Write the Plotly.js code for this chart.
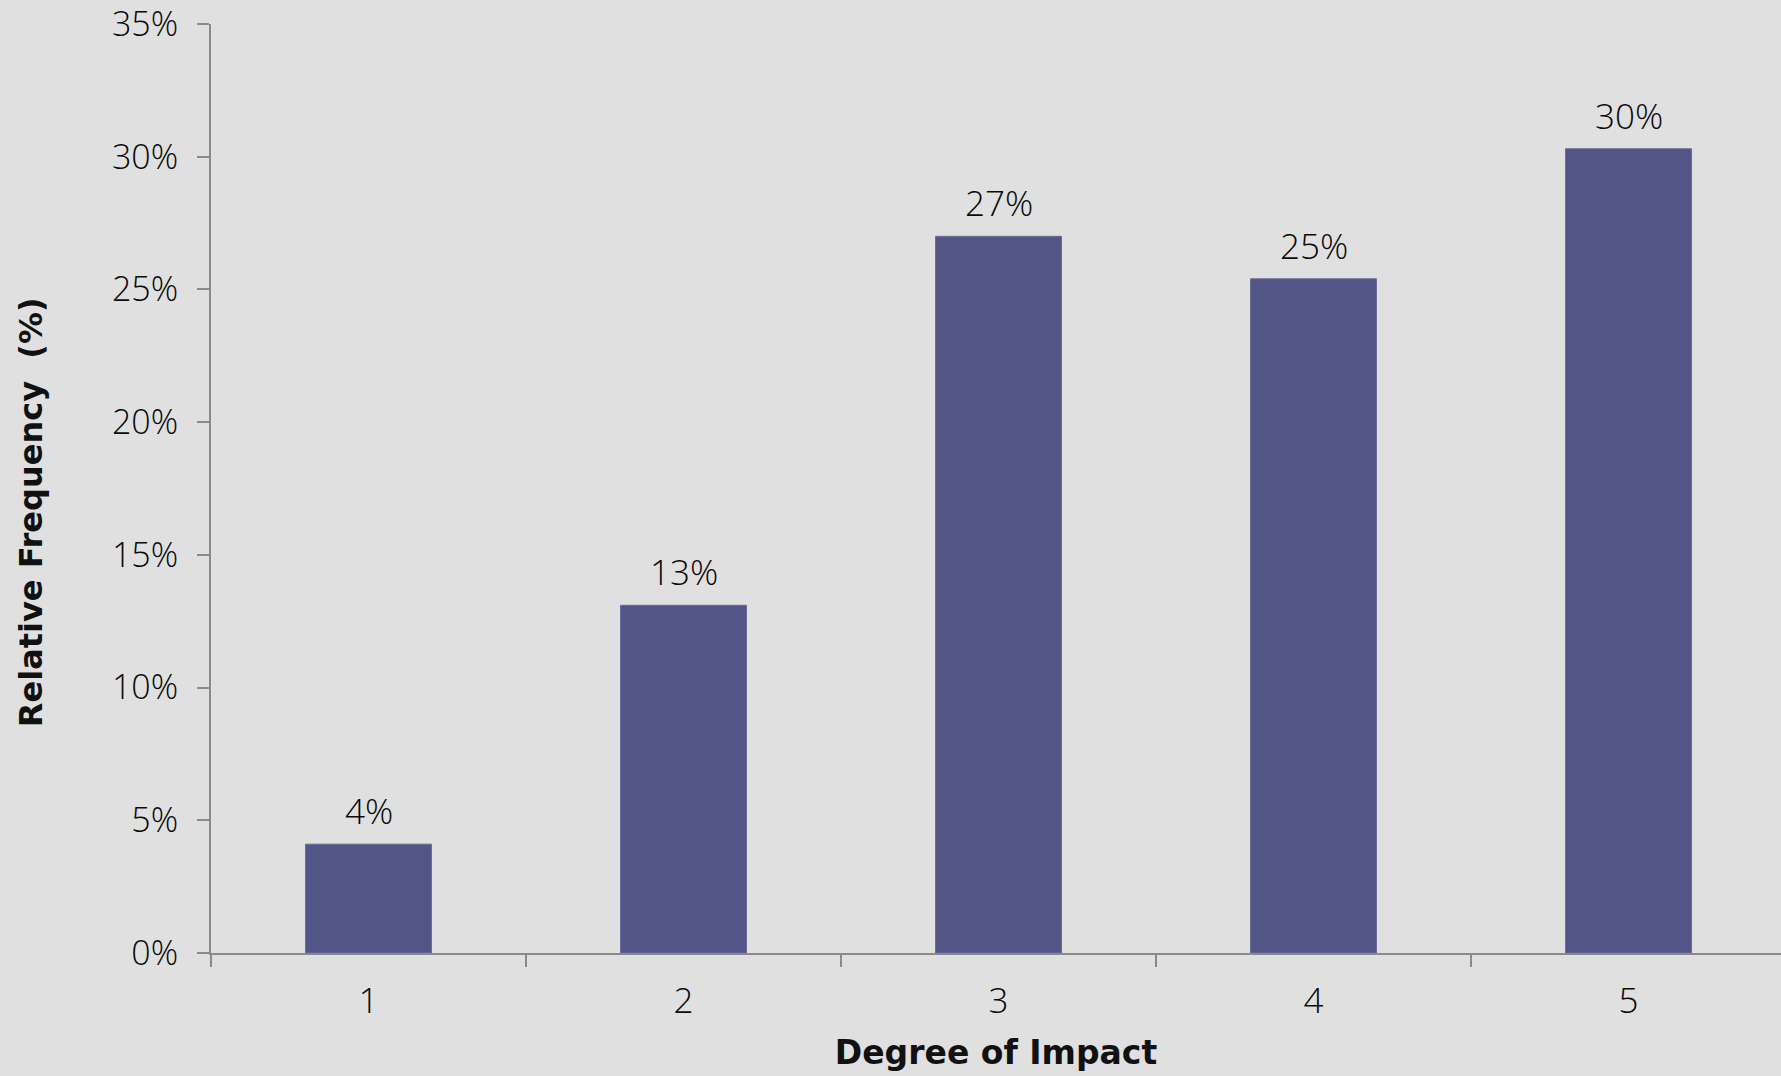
<!DOCTYPE html>
<html>
<head>
<meta charset="utf-8">
<script src="https://cdn.plot.ly/plotly-3.0.1.min.js"></script>
<style>html,body{margin:0;padding:0;background:#e0e0e0;}#chart{width:1781px;height:1076px;}</style>
</head>
<body>
<div id="chart"></div>
<script>
const categories = ["1", "2", "3", "4", "5"];
const relFreq = [4.1, 13.1, 27.0, 25.4, 30.3];
const barLabels = ["4%", "13%", "27%", "25%", "30%"];
const yTicks = [0, 5, 10, 15, 20, 25, 30, 35];

const trace = {
  type: "bar",
  x: categories,
  y: relFreq,
  marker: {color: "#535587", line: {color: "#6a6c9c", width: 1}},
  hoverinfo: "skip"
};

const labelFont = {family: "Open Sans", size: 35, color: "#0a0a0a", weight: 300};
const annotations = categories.map((c, i) => ({
  x: i, y: relFreq[i], xref: "x", yref: "y",
  text: barLabels[i], showarrow: false,
  yanchor: "bottom", yshift: 8,
  font: labelFont
}));
annotations.push({
  xref: "paper", yref: "paper", x: -0.115, y: 0.475,
  xanchor: "center", yanchor: "middle", textangle: -90,
  text: "Relative Frequency  (%)", showarrow: false,
  font: {family: "DejaVu Sans", size: 32, color: "#111", weight: "bold"}
});

const layout = {
  width: 1781, height: 1076,
  paper_bgcolor: "#e0e0e0",
  plot_bgcolor: "#e0e0e0",
  margin: {l: 211, r: 0, t: 24, b: 123, pad: 0},
  bargap: 0.6,
  showlegend: false,
  font: {family: "Open Sans", color: "#0a0a0a"},
  annotations: annotations,
  xaxis: {
    type: "category",
    range: [-0.5, 4.484],
    tickson: "boundaries",
    ticks: "outside", ticklen: 12, tickwidth: 2, tickcolor: "#8a8a8a",
    showline: true, linecolor: "#8a8a8a", linewidth: 2,
    showgrid: false, zeroline: false,
    ticklabelstandoff: 16,
    tickfont: labelFont,
    title: {text: "Degree of Impact", font: {family: "DejaVu Sans", size: 33, color: "#111", weight: "bold"}, standoff: 19}
  },
  yaxis: {
    range: [0, 35],
    tickvals: yTicks,
    ticktext: yTicks.map(v => v + "%"),
    ticks: "outside", ticklen: 12, tickwidth: 2, tickcolor: "#8a8a8a",
    showline: true, linecolor: "#8a8a8a", linewidth: 2,
    showgrid: false, zeroline: false,
    ticklabelstandoff: 12,
    ticklabeloverflow: "allow",
    tickfont: {family: "Open Sans", size: 34, color: "#0a0a0a", weight: 300}
  }
};

Plotly.newPlot("chart", [trace], layout, {displayModeBar: false, staticPlot: true});
</script>
</body>
</html>
